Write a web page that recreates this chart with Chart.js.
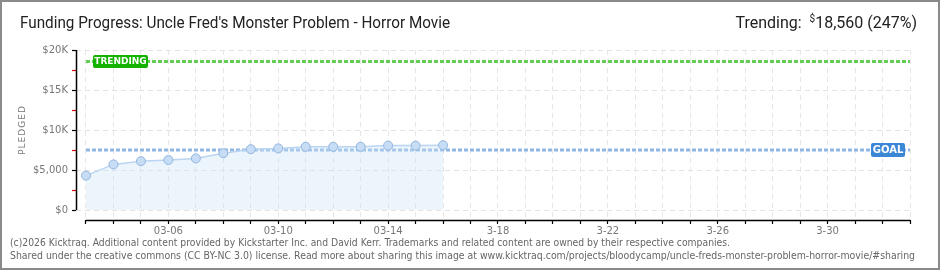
<!DOCTYPE html>
<html>
<head>
<meta charset="utf-8">
<script src="https://cdn.jsdelivr.net/npm/chart.js@4.4.1/dist/chart.umd.min.js"></script>
<style>
  html, body { margin: 0; padding: 0; background: #fff; }
  canvas { display: block; }
</style>
</head>
<body>
<canvas id="c" width="940" height="270"></canvas>
<script>
// ---- data ----
const dayLabels = ['03-03','03-04','03-05','03-06','03-07','03-08','03-09','03-10','03-11','03-12','03-13','03-14','03-15','03-16','03-17','03-18','03-19','03-20','03-21','03-22','03-23','03-24','03-25','03-26','03-27','03-28','03-29','03-30','03-31','04-01','04-02'];
const xTickLabels = ['','','','03-06','','','','03-10','','','','03-14','','','','3-18','','','','3-22','','','','3-26','','','','3-30','','',''];
const pledged = [4300, 5700, 6100, 6250, 6450, 7100, 7600, 7700, 7900, 7900, 7900, 8050, 8050, 8100];
const goal = 7500;
const trending = 18560;
const yTickValues = [0, 5000, 10000, 15000, 20000];
const yTickLabels = ['$0', '$5,000', '$10K', '$15K', '$20K'];
const yMinorValues = [2500, 7500, 12500, 17500];
const titleText = "Funding Progress: Uncle Fred's Monster Problem - Horror Movie";
const trendingText = ['Trending:  ', '$', '18,560 (247%)'];
const footer1 = '(c)2026 Kicktraq. Additional content provided by Kickstarter Inc. and David Kerr. Trademarks and related content are owned by their respective companies.';
const footer2 = 'Shared under the creative commons (CC BY-NC 3.0) license. Read more about sharing this image at www.kicktraq.com/projects/bloodycamp/uncle-freds-monster-problem-horror-movie/#sharing';

const lastDay = dayLabels.length - 1;

function fitText(ctx, text, x, y, maxW, align) {
  const w = ctx.measureText(text).width;
  const s = w > maxW ? maxW / w : 1;
  ctx.save();
  ctx.translate(x, y);
  ctx.scale(s, 1);
  ctx.textAlign = align || 'left';
  ctx.fillText(text, 0, 0);
  ctx.restore();
}

function badge(ctx, x, y, w, h, color, text, font) {
  ctx.save();
  ctx.fillStyle = color;
  ctx.beginPath();
  ctx.roundRect(x, y, w, h, 2);
  ctx.fill();
  ctx.fillStyle = '#fff';
  ctx.font = font;
  ctx.textAlign = 'center';
  ctx.textBaseline = 'middle';
  ctx.fillText(text, x + w / 2, y + h / 2 + 0.5);
  ctx.restore();
}

const decor = {
  id: 'decor',
  beforeDraw(chart) {
    const ctx = chart.ctx;
    ctx.save();
    ctx.fillStyle = '#fff';
    ctx.fillRect(0, 0, chart.width, chart.height);
    ctx.restore();
  },
  afterDatasetsDraw(chart) {
    const ctx = chart.ctx;
    const xs = chart.scales.x, ys = chart.scales.y;
    // badges
    const ty = ys.getPixelForValue(trending);
    badge(ctx, 93, ty - 6.5, 55, 13, '#13b300', 'TRENDING', 'bold 9px "DejaVu Sans"');
    const gy = ys.getPixelForValue(goal);
    badge(ctx, 871, gy - 7, 34, 14, '#3b87d6', 'GOAL', 'bold 10px "DejaVu Sans"');
  },
  afterDraw(chart) {
    const ctx = chart.ctx;
    const xs = chart.scales.x, ys = chart.scales.y;
    const ca = chart.chartArea;
    ctx.save();
    // axis lines
    ctx.strokeStyle = '#000';
    ctx.lineWidth = 1.5;
    ctx.beginPath();
    ctx.moveTo(ca.left + 0.5, ys.getPixelForValue(20000));
    ctx.lineTo(ca.left + 0.5, ys.getPixelForValue(0));
    ctx.moveTo(xs.getPixelForValue(0), ca.bottom + 0.5);
    ctx.lineTo(xs.getPixelForValue(lastDay), ca.bottom + 0.5);
    ctx.stroke();

    // title
    ctx.fillStyle = '#222';
    ctx.textBaseline = 'alphabetic';
    ctx.font = '16px Roboto';
    fitText(ctx, titleText, 20, 28, 430, 'left');

    // trending text (right)
    ctx.font = '16px Roboto';
    const w1 = ctx.measureText(trendingText[0]).width;
    const w3 = ctx.measureText(trendingText[2]).width;
    ctx.font = '10px Roboto';
    const w2 = ctx.measureText(trendingText[1]).width;
    let xr = 917 - (w1 + w2 + w3);
    ctx.font = '16px Roboto';
    ctx.textAlign = 'left';
    ctx.fillText(trendingText[0], xr, 28);
    ctx.font = '10px Roboto';
    ctx.fillText(trendingText[1], xr + w1, 22);
    ctx.font = '16px Roboto';
    ctx.fillText(trendingText[2], xr + w1 + w2, 28);

    // y axis title
    ctx.save();
    ctx.translate(23, 130);
    ctx.rotate(-Math.PI / 2);
    ctx.font = '9px "DejaVu Sans"';
    ctx.fillStyle = '#777';
    ctx.textAlign = 'center';
    ctx.textBaseline = 'middle';
    if (ctx.letterSpacing !== undefined) ctx.letterSpacing = '1px';
    ctx.fillText('PLEDGED', 0, 0);
    ctx.restore();

    // footer
    ctx.fillStyle = '#666';
    ctx.font = '10px "DejaVu Sans"';
    ctx.textBaseline = 'middle';
    fitText(ctx, footer1, 10, 243, 720, 'left');
    fitText(ctx, footer2, 10, 256, 905, 'left');

    // border
    ctx.strokeStyle = '#8a8a8a';
    ctx.lineWidth = 2;
    ctx.strokeRect(1, 1, chart.width - 2, chart.height - 2);
    ctx.restore();
  }
};

const ptsPledged = pledged.map((v, i) => ({ x: i, y: v }));
const ptsGoal = [{ x: 0, y: goal }, { x: lastDay, y: goal }];
const ptsTrend = [{ x: 0, y: trending }, { x: lastDay, y: trending }];

new Chart(document.getElementById('c'), {
  type: 'line',
  data: {
    datasets: [
      {
        label: 'Pledged',
        data: ptsPledged,
        order: 0,
        borderColor: '#b9d5f2',
        borderWidth: 1.5,
        backgroundColor: 'rgba(205,225,248,0.38)',
        fill: 'origin',
        tension: 0,
        pointRadius: 4.5,
        pointBackgroundColor: '#c7ddf6',
        pointBorderColor: '#93b6df',
        pointBorderWidth: 1
      },
      {
        label: 'Goal',
        data: ptsGoal,
        order: 1,
        borderColor: '#8fb6e4',
        borderWidth: 3,
        borderDash: [4, 2],
        pointRadius: 0,
        fill: false
      },
      {
        label: 'Trending',
        data: ptsTrend,
        order: 1,
        borderColor: '#62cf52',
        borderWidth: 3,
        borderDash: [4, 2],
        pointRadius: 0,
        fill: false
      }
    ]
  },
  options: {
    responsive: false,
    animation: false,
    devicePixelRatio: 1,
    layout: { padding: { left: 0, top: 50, right: 30, bottom: 0 } },
    plugins: { legend: { display: false }, tooltip: { enabled: false }, title: { display: false } },
    scales: {
      x: {
        type: 'linear',
        min: -10 / 27.5,
        max: lastDay,
        afterBuildTicks(scale) {
          scale.ticks = dayLabels.map((d, i) => ({ value: i }));
        },
        afterFit(scale) { scale.height = 50; },
        ticks: {
          autoSkip: false,
          maxRotation: 0,
          padding: 1,
          color: '#777',
          font: { family: 'DejaVu Sans', size: 10 },
          callback: (v) => xTickLabels[v] || ''
        },
        grid: {
          color: '#e6e6e6',
          lineWidth: 1,
          tickColor: '#000',
          tickLength: 4,
          tickWidth: 1.2
        },
        border: { display: false, dash: [5, 4] }
      },
      y: {
        type: 'linear',
        min: -1250,
        max: 20000,
        afterBuildTicks(scale) {
          const all = yTickValues.concat(yMinorValues).sort((a, b) => a - b);
          scale.ticks = all.map(v => ({ value: v }));
        },
        afterFit(scale) { scale.width = 76; },
        ticks: {
          autoSkip: false,
          padding: 4,
          color: '#777',
          font: { family: 'DejaVu Sans', size: 10 },
          callback: (v) => {
            const k = yTickValues.indexOf(v);
            return k >= 0 ? yTickLabels[k] : '';
          }
        },
        grid: {
          color: (c) => (yTickValues.includes(c.tick && c.tick.value) ? '#e3e3e3' : 'rgba(0,0,0,0)'),
          lineWidth: 1,
          tickColor: (c) => (yTickValues.includes(c.tick && c.tick.value) ? '#000' : '#e00000'),
          tickLength: 4,
          tickWidth: 1.2
        },
        border: { display: false, dash: [5, 4] }
      }
    }
  },
  plugins: [decor]
});
</script>
</body>
</html>
